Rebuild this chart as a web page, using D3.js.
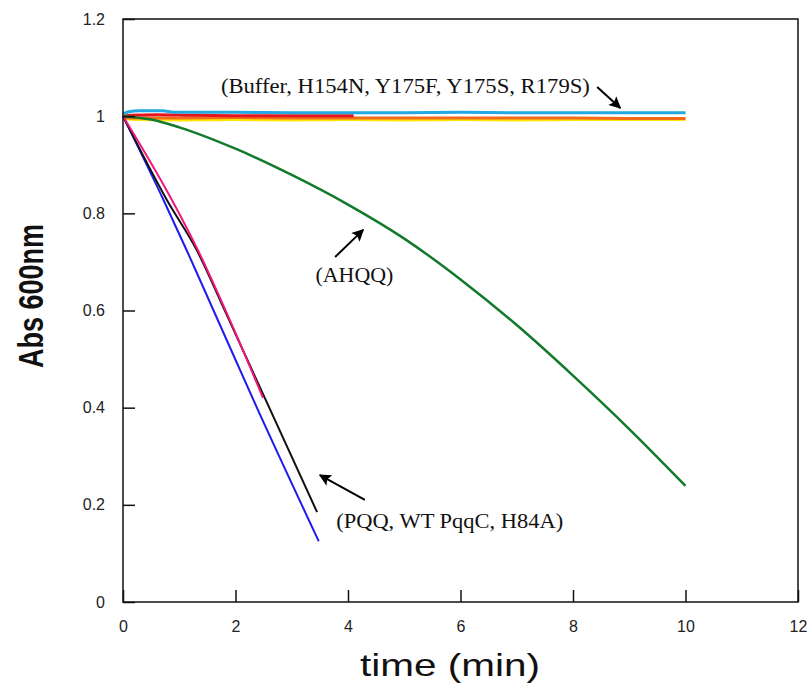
<!DOCTYPE html>
<html>
<head>
<meta charset="utf-8">
<script src="https://cdn.jsdelivr.net/npm/d3@7"></script>
<style>
  body { margin: 0; background: #fff; }
  svg { display: block; }
</style>
</head>
<body>
<div id="chart"></div>
<script>
// tick values / labels
var xTicks = [0, 2, 4, 6, 8, 10, 12];
var xTickLabels = ["0", "2", "4", "6", "8", "10", "12"];
var yTicks = [0, 0.2, 0.4, 0.6, 0.8, 1, 1.2];
var yTickLabels = ["0", "0.2", "0.4", "0.6", "0.8", "1", "1.2"];

// flat traces (Buffer, H154N, Y175F, Y175S, R179S)
var yellowT = [0, 0.2, 1, 2, 3, 4, 5, 6, 7, 8, 9, 10];
var yellowV = [0.996, 0.993, 0.992, 0.993, 0.992, 0.993, 0.992, 0.993, 0.992, 0.993, 0.993, 0.993];
var orangeT = [0, 0.2, 1, 2, 3, 4, 5, 6, 7, 8, 9, 10];
var orangeV = [0.998, 0.996, 0.996, 0.997, 0.996, 0.996, 0.996, 0.996, 0.996, 0.996, 0.995, 0.995];
var redT = [0, 0.15, 0.6, 1.2, 2, 3, 4.1];
var redV = [1.0, 1.002, 1.003, 1.002, 1.001, 1.001, 1.001];
var cyanT = [0, 0.1, 0.3, 0.7, 0.9, 2, 3, 4, 5, 6, 7, 8, 9, 10];
var cyanV = [1.004, 1.009, 1.011, 1.011, 1.008, 1.008, 1.007, 1.007, 1.007, 1.008, 1.007, 1.007, 1.007, 1.007];

// AHQQ
var greenT = [0, 0.5, 1, 2, 3, 4, 5, 6, 7, 8, 9, 10];
var greenV = [1.0, 0.993, 0.977, 0.933, 0.879, 0.818, 0.748, 0.664, 0.57, 0.466, 0.356, 0.239];

// PQQ, WT PqqC, H84A
var blueT = [0, 0.72, 1.13, 1.61, 2.38, 3.48];
var blueV = [1.0, 0.8275, 0.7246, 0.6, 0.4, 0.125];
var blackT = [0, 0.78, 1.31, 1.81, 2.6, 3.45];
var blackV = [1.0, 0.8275, 0.7246, 0.6, 0.4, 0.185];
var magentaT = [0, 0.87, 1.33, 1.9, 2.49];
var magentaV = [1.0, 0.8275, 0.7246, 0.58, 0.42];

var width = 811, height = 688;
var margin = {top: 19, right: 13, bottom: 86, left: 123};
var innerW = width - margin.left - margin.right;
var innerH = height - margin.top - margin.bottom;

var x = d3.scaleLinear().domain([0, 12]).range([0, innerW]);
var y = d3.scaleLinear().domain([0, 1.2]).range([innerH, 0]);

var svg = d3.select("#chart")
  .append("svg")
    .attr("width", width)
    .attr("height", height);

var g = svg.append("g")
    .attr("transform", "translate(" + margin.left + "," + margin.top + ")");

var line = d3.line()
    .x(d => x(d[0]))
    .y(d => y(d[1]))
    .curve(d3.curveMonotoneX);

function zip(ts, vs) { return ts.map((t, i) => [t, vs[i]]); }

var series = [
  {t: yellowT, v: yellowV, color: "#ffe500", w: 3},
  {t: orangeT, v: orangeV, color: "#f26a1b", w: 3},
  {t: redT, v: redV, color: "#e3161d", w: 3},
  {t: cyanT, v: cyanV, color: "#22a9e1", w: 3},
  {t: greenT, v: greenV, color: "#127a2b", w: 2.5},
  {t: blueT, v: blueV, color: "#1c1cf0", w: 2},
  {t: blackT, v: blackV, color: "#111111", w: 2},
  {t: magentaT, v: magentaV, color: "#f4157e", w: 2}
];

g.selectAll("path.trace")
  .data(series)
  .enter()
  .append("path")
    .attr("class", "trace")
    .attr("d", d => line(zip(d.t, d.v)))
    .attr("fill", "none")
    .attr("stroke", d => d.color)
    .attr("stroke-width", d => d.w);

// axes, inward ticks
var xAxis = d3.axisBottom(x)
    .tickValues(xTicks)
    .tickFormat((d, i) => xTickLabels[i])
    .tickSize(-12)
    .tickPadding(19);
var yAxis = d3.axisLeft(y)
    .tickValues(yTicks)
    .tickFormat((d, i) => yTickLabels[i])
    .tickSize(-12)
    .tickPadding(18);

var gx = g.append("g").attr("transform", "translate(0," + innerH + ")").call(xAxis);
var gy = g.append("g").call(yAxis);
[gx, gy].forEach(function(a){
  a.select(".domain").remove();
  a.selectAll("line").attr("stroke", "#111").attr("stroke-width", 1.5);
  a.selectAll("text")
    .attr("fill", "#222")
    .style("font-family", "'Liberation Sans', Arial, sans-serif")
    .style("font-size", "16px");
});

// frame
g.append("rect")
    .attr("width", innerW)
    .attr("height", innerH)
    .attr("fill", "none")
    .attr("stroke", "#111")
    .attr("stroke-width", 1.5);

// axis titles
svg.append("text")
    .text("time (min)")
    .attr("x", 450)
    .attr("y", 676)
    .attr("text-anchor", "middle")
    .attr("textLength", 180)
    .attr("lengthAdjust", "spacingAndGlyphs")
    .attr("fill", "#111")
    .style("font-family", "'Liberation Sans', Arial, sans-serif")
    .style("font-size", "32px");

svg.append("text")
    .text("Abs 600nm")
    .attr("transform", "translate(43,296) scale(1.3,1) rotate(-90)")
    .attr("text-anchor", "middle")
    .attr("fill", "#111")
    .style("font-family", "'Liberation Sans', Arial, sans-serif")
    .style("font-weight", "bold")
    .style("font-size", "27px");

// annotations (data units)
var noteText = ["(Buffer, H154N, Y175F, Y175S, R179S)", "(AHQQ)", "(PQQ, WT PqqC, H84A)"];
var noteT = [1.74, 3.42, 3.79];
var noteV = [1.048, 0.659, 0.152];
var noteLen = [369, 78, 227];
var arrowFromT = [8.43, 3.77, 4.30];
var arrowFromV = [1.060, 0.710, 0.210];
var arrowToT = [8.84, 4.27, 3.50];
var arrowToV = [1.017, 0.766, 0.261];

svg.append("defs").append("marker")
    .attr("id", "head")
    .attr("viewBox", "0 0 10 10")
    .attr("refX", 9)
    .attr("refY", 5)
    .attr("markerWidth", 17)
    .attr("markerHeight", 12)
    .attr("markerUnits", "userSpaceOnUse")
    .attr("orient", "auto")
  .append("path")
    .attr("d", "M0,0 L10,5 L0,10 L2,5 z")
    .attr("fill", "#000");

g.selectAll("text.note")
  .data(noteText)
  .enter()
  .append("text")
    .attr("class", "note")
    .text(d => d)
    .attr("x", (d, i) => x(noteT[i]))
    .attr("y", (d, i) => y(noteV[i]))
    .attr("textLength", (d, i) => noteLen[i])
    .attr("lengthAdjust", "spacingAndGlyphs")
    .attr("fill", "#111")
    .style("font-family", "'Liberation Serif', 'Times New Roman', serif")
    .style("font-size", "20px");

g.selectAll("line.arrow")
  .data(arrowFromT)
  .enter()
  .append("line")
    .attr("class", "arrow")
    .attr("x1", (d, i) => x(arrowFromT[i]))
    .attr("y1", (d, i) => y(arrowFromV[i]))
    .attr("x2", (d, i) => x(arrowToT[i]))
    .attr("y2", (d, i) => y(arrowToV[i]))
    .attr("stroke", "#000")
    .attr("stroke-width", 2)
    .attr("marker-end", "url(#head)");
</script>
</body>
</html>
